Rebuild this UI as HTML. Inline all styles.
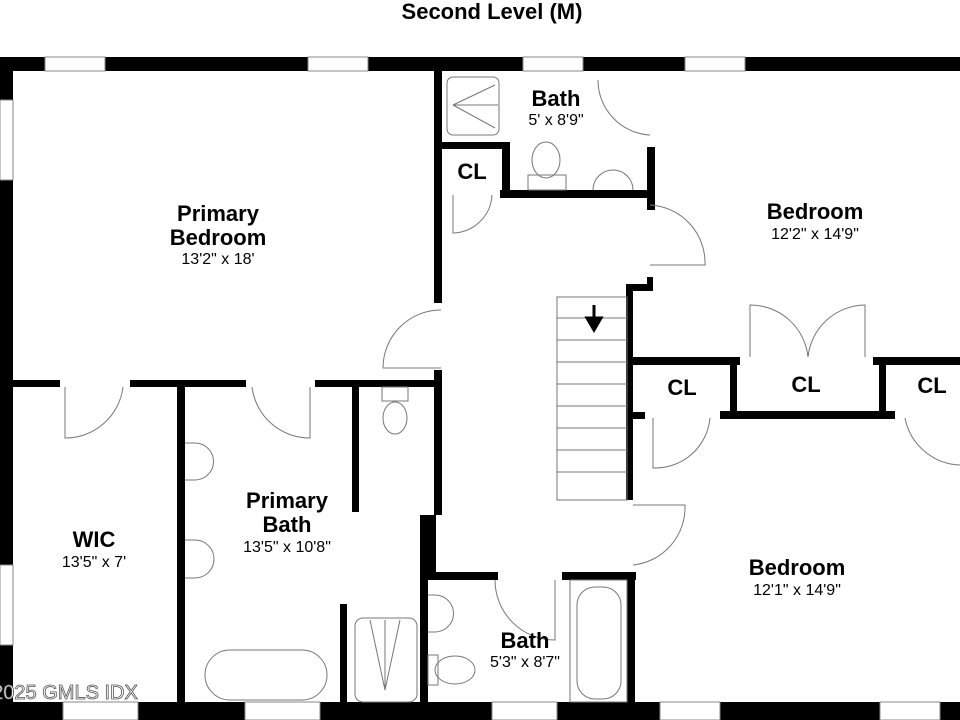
<!DOCTYPE html>
<html><head><meta charset="utf-8"><style>
html,body{margin:0;padding:0;background:#fff;width:960px;height:720px;overflow:hidden}
svg{display:block}
text{font-family:"Liberation Sans",sans-serif;text-anchor:middle;fill:#000}
.n{font-weight:bold;font-size:22px}
.d{font-size:16px}
</style></head><body>
<svg width="960" height="720" viewBox="0 0 960 720">
<text x="492" y="19" class="n" style="font-size:22px">Second Level (M)</text>
<g fill="#000">
<rect x="0" y="57" width="960" height="14"/>
<rect x="0" y="57" width="13" height="663"/>
<rect x="0" y="702" width="960" height="18"/>
<rect x="434" y="71" width="8" height="232"/>
<rect x="434" y="370" width="8" height="145"/>
<rect x="420" y="515" width="16" height="65"/>
<rect x="442" y="142" width="68" height="7"/>
<rect x="502" y="142" width="8" height="56"/>
<rect x="500" y="190" width="155" height="8"/>
<rect x="647" y="147" width="8" height="63"/>
<rect x="626" y="284" width="27" height="7"/>
<rect x="647" y="277" width="6" height="14"/>
<rect x="626" y="284" width="7" height="216"/>
<rect x="633" y="357" width="107" height="8"/>
<rect x="730" y="357" width="7" height="60"/>
<rect x="720" y="411" width="175" height="8"/>
<rect x="879" y="357" width="7" height="62"/>
<rect x="873" y="357" width="87" height="8"/>
<rect x="633" y="412" width="12" height="7"/>
<rect x="13" y="380" width="47" height="7"/>
<rect x="130" y="380" width="116" height="7"/>
<rect x="315" y="380" width="127" height="7"/>
<rect x="177" y="387" width="8" height="315"/>
<rect x="352" y="387" width="7" height="125"/>
<rect x="420" y="572" width="78" height="8"/>
<rect x="562" y="572" width="74" height="8"/>
<rect x="420" y="572" width="8" height="130"/>
<rect x="627" y="572" width="8" height="130"/>
<rect x="340" y="604" width="7" height="98"/>
</g>
<g fill="#fff" stroke="#888" stroke-width="1">
<rect x="45" y="57" width="60" height="14"/><rect x="308" y="57" width="60" height="14"/>
<rect x="523" y="57" width="60" height="14"/><rect x="685" y="57" width="60" height="14"/>
<rect x="0" y="100" width="13" height="80"/><rect x="0" y="565" width="13" height="80"/>
<rect x="63" y="702" width="75" height="18"/><rect x="245" y="702" width="75" height="18"/>
<rect x="492" y="702" width="65" height="18"/><rect x="660" y="702" width="60" height="18"/>
<rect x="880" y="702" width="60" height="18"/>
</g>
<g fill="none" stroke="#777" stroke-width="1">
<path d="M441 310 A58 58 0 0 0 383 368 L441 368"/>
<path d="M65 387 V438 A58 58 0 0 0 123 387"/>
<path d="M310 387 V438 A58 58 0 0 1 252 387"/>
<path d="M598 80 A55 55 0 0 0 650 135"/>
<path d="M650 205 A58 58 0 0 1 705 265 L650 265"/>
<path d="M453 195 V233 A40 40 0 0 0 492 195"/>
<path d="M653 418 V468 A55 55 0 0 0 710 418"/>
<path d="M750 357 V305 A58 58 0 0 1 808 357 A58 58 0 0 1 865 305 V357"/>
<path d="M960 465 A58 58 0 0 1 905 418"/>
<path d="M633 505 H685 A58 58 0 0 1 633 565"/>
<path d="M495 580 A60 60 0 0 0 555 640 V580"/>
<rect x="447" y="77" width="52" height="58" rx="6"/>
<path d="M453 105 L495 85 M453 105 L498 105 M453 105 L495 128"/>
<ellipse cx="546" cy="160" rx="14" ry="18"/><rect x="528" y="175" width="38" height="15"/>
<path d="M593 190 A20 20 0 1 1 633 190"/>
<rect x="557" y="297" width="70" height="203"/>
<path d="M557 318H627M557 340H627M557 362H627M557 384H627M557 406H627M557 428H627M557 450H627M557 472H627"/>
<path d="M185 443 H195 A18 18 0 0 1 195 480 H185 M185 540 H195 A18 18 0 0 1 195 578 H185"/>
<ellipse cx="395" cy="418" rx="12" ry="16"/><rect x="382" y="387" width="26" height="14"/>
<rect x="205" y="650" width="122" height="50" rx="25"/>
<rect x="355" y="618" width="62" height="84" rx="8"/>
<path d="M370 620 L385 690 L400 620 M385 620 V690"/>
<path d="M428 595 H435 A18 18 0 0 1 435 632 H428"/>
<ellipse cx="455" cy="670" rx="20" ry="14"/><rect x="428" y="655" width="10" height="30"/>
<rect x="570" y="580" width="57" height="122"/><rect x="577" y="587" width="44" height="112" rx="18"/>
</g>
<text x="218" y="221" class="n">Primary</text>
<text x="218" y="245" class="n">Bedroom</text>
<text x="218" y="264" class="d">13'2" x 18'</text>
<text x="556" y="106" class="n">Bath</text>
<text x="556" y="125" class="d">5' x 8'9"</text>
<text x="472" y="179" class="n">CL</text>
<text x="815" y="219" class="n">Bedroom</text>
<text x="815" y="239" class="d">12'2" x 14'9"</text>
<text x="682" y="395" class="n">CL</text>
<text x="806" y="392" class="n">CL</text>
<text x="932" y="393" class="n">CL</text>
<text x="287" y="508" class="n">Primary</text>
<text x="287" y="532" class="n">Bath</text>
<text x="287" y="552" class="d">13'5" x 10'8"</text>
<text x="94" y="547" class="n">WIC</text>
<text x="94" y="567" class="d">13'5" x 7'</text>
<text x="797" y="575" class="n">Bedroom</text>
<text x="797" y="595" class="d">12'1" x 14'9"</text>
<text x="525" y="648" class="n">Bath</text>
<text x="525" y="667" class="d">5'3" x 8'7"</text>
<text x="65" y="699" style="font-size:20px;fill:#fff;stroke:#555;stroke-width:0.8">2025 GMLS IDX</text>
<path d="M594 305 V322 M587 318 L594 330 L601 318 Z" stroke="#000" stroke-width="3" fill="#000"/>
</svg>
</body></html>
